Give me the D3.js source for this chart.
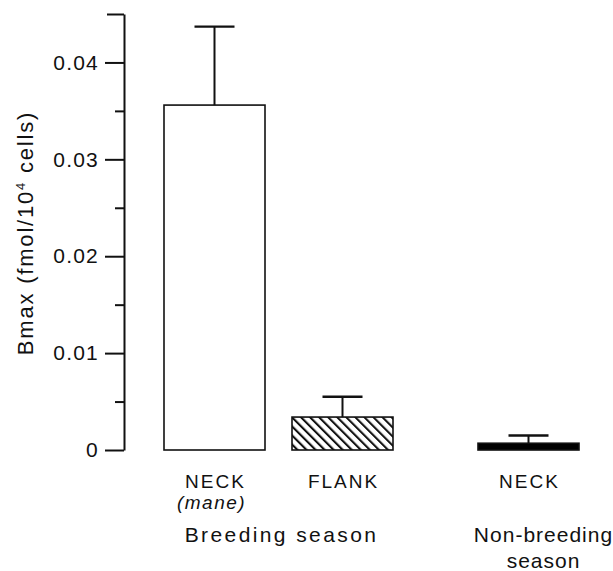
<!DOCTYPE html>
<html>
<head>
<meta charset="utf-8">
<script src="https://cdn.jsdelivr.net/npm/d3@7"></script>
<style>
  html, body { margin: 0; padding: 0; background: #fff; }
  svg { display: block; font-family: "Liberation Sans", Arial, Helvetica, sans-serif; }
</style>
</head>
<body>
<svg id="chart" width="613" height="571"></svg>
<script>
// ---- data ----
const groups = ["Breeding season", "Non-breeding season"];
const groupLines = [["Breeding season"], ["Non-breeding", "season"]];
const categories = ["NECK", "FLANK", "NECK"];
const subLabels = ["(mane)", "", ""];
const categoryGroup = [0, 0, 1];
const categoryIndexInGroup = [0, 1, 0];
const bmaxMean = [0.0356, 0.0034, 0.0007];
const bmaxError = [0.0081, 0.0021, 0.0008];
const fills = ["white", "hatch", "black"];
const majorTicks = [0, 0.01, 0.02, 0.03, 0.04];
const majorTickLabels = ["0", "0.01", "0.02", "0.03", "0.04"];
const minorTicks = [0.005, 0.015, 0.025, 0.035];
const topTick = [0.045];

// ---- layout ----
const svg = d3.select("#chart");
const y = d3.scaleLinear().domain([0, 0.045]).range([450, 14]);

const outer = d3.scaleBand().domain(groups).range([164, 707]).paddingInner(85 / 314).paddingOuter(0);
const inner = d3.scaleBand().domain([0, 1]).range([0, outer.bandwidth()]).paddingInner(27 / 128).paddingOuter(0);

const data = categories.map((c, i) => ({
  cat: c, sub: subLabels[i], group: groups[categoryGroup[i]],
  k: categoryIndexInGroup[i], mean: bmaxMean[i], err: bmaxError[i], fill: fills[i]
}));
const bx = d => outer(d.group) + inner(d.k);
const bw = inner.bandwidth();
const cx = d => bx(d) + bw / 2;

// hatch pattern
const defs = svg.append("defs");
const pat = defs.append("pattern").attr("id", "hatch")
  .attr("patternUnits", "userSpaceOnUse").attr("width", 6.4).attr("height", 6.4)
  .attr("patternTransform", "rotate(-45)");
pat.append("rect").attr("width", 6.4).attr("height", 6.4).attr("fill", "white");
pat.append("line").attr("x1", 0).attr("y1", 0).attr("x2", 0).attr("y2", 6.4)
  .attr("stroke", "#111").attr("stroke-width", 4.2);

// ---- y axis ----
const axisG = svg.append("g").attr("transform", "translate(124,0)");
const majorAxis = d3.axisLeft(y).tickValues(majorTicks).tickSize(19).tickSizeOuter(0).tickPadding(6)
  .tickFormat((d, i) => majorTickLabels[i]);
axisG.call(majorAxis);
axisG.append("g").call(d3.axisLeft(y).tickValues(minorTicks).tickSize(9).tickFormat(""))
  .select(".domain").remove();
axisG.append("g").call(d3.axisLeft(y).tickValues(topTick).tickSize(17).tickFormat(""))
  .select(".domain").remove();
axisG.selectAll("path, line").attr("stroke", "#111").attr("stroke-width", 2);
axisG.selectAll("text").attr("font-size", 21).attr("letter-spacing", 1.2)
  .attr("fill", "#111").style("font-family", "'Liberation Sans', Arial, sans-serif");

// y title
const yt = svg.append("text")
  .attr("transform", `translate(33,${233}) rotate(-90)`)
  .attr("text-anchor", "middle").attr("font-size", 22).attr("letter-spacing", 1.8).attr("fill", "#111");
yt.append("tspan").text("Bmax (fmol/10");
yt.append("tspan").attr("font-size", 13).attr("dy", -8).text("4");
yt.append("tspan").attr("dy", 8).text(" cells)");

// ---- bars ----
svg.append("g").selectAll("rect").data(data).join("rect")
  .attr("x", bx).attr("width", bw)
  .attr("y", d => y(d.mean)).attr("height", d => y(0) - y(d.mean))
  .attr("fill", d => d.fill === "hatch" ? "url(#hatch)" : d.fill)
  .attr("stroke", "#111").attr("stroke-width", 1.6);

// ---- error bars (upper only) ----
const eg = svg.append("g").attr("stroke", "#111").attr("stroke-width", 2);
eg.selectAll("line.v").data(data).join("line").attr("class", "v")
  .attr("x1", cx).attr("x2", cx)
  .attr("y1", d => y(d.mean)).attr("y2", d => y(d.mean + d.err));
eg.selectAll("line.c").data(data).join("line").attr("class", "c")
  .attr("x1", d => cx(d) - 20).attr("x2", d => cx(d) + 20)
  .attr("y1", d => y(d.mean + d.err)).attr("y2", d => y(d.mean + d.err))
  .attr("stroke-width", 2.4);

// ---- category labels ----
const lab = svg.append("g").attr("fill", "#111").attr("text-anchor", "middle");
lab.selectAll("text.cat").data(data).join("text").attr("class", "cat")
  .attr("x", d => cx(d) + 1).attr("y", 488)
  .attr("font-size", 19).attr("letter-spacing", 2).text(d => d.cat);
lab.selectAll("text.sub").data(data.filter(d => d.sub)).join("text").attr("class", "sub")
  .attr("x", d => cx(d) - 3).attr("y", 509)
  .attr("font-size", 19).attr("font-style", "italic").attr("letter-spacing", 1.5).text(d => d.sub);

// ---- group labels ----
groups.forEach((g, gi) => {
  const members = data.filter(d => d.group === g);
  const mid = d3.mean(members, cx) + (gi === 0 ? 3 : 15);
  const t = lab.append("text").attr("font-size", 21).attr("letter-spacing", gi === 0 ? 2.4 : 1.0)
    .attr("x", mid).attr("y", 542);
  groupLines[gi].forEach((line, li) => {
    t.append("tspan").attr("x", mid).attr("dy", li === 0 ? 0 : 26).text(line);
  });
});
</script>
</body>
</html>
